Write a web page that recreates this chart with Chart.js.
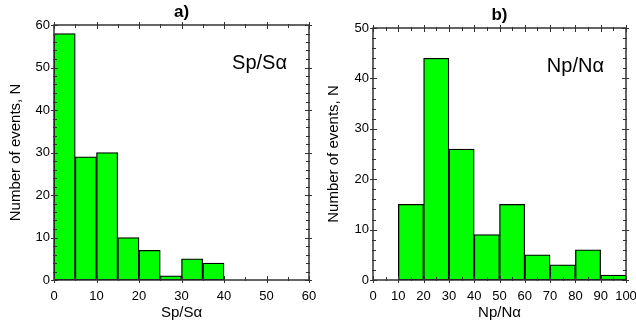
<!DOCTYPE html>
<html>
<head>
<meta charset="UTF-8">
<script src="https://cdn.jsdelivr.net/npm/chart.js"></script>
<style>
  html, body { margin: 0; padding: 0; background: #fff; overflow: hidden; width: 636px; height: 328px; }
  canvas { position: absolute; top: 0; }
  #chartA { left: 0; }
  #chartB { left: 318px; }
</style>
</head>
<body>
<canvas id="chartA" width="318" height="328"></canvas>
<canvas id="chartB" width="340" height="328"></canvas>
<script>
// histogram a) Sp/Sα, bin width 5
const spEdges = [0, 5, 10, 15, 20, 25, 30, 35];
const spCounts = [58, 29, 30, 10, 7, 1, 5, 4];
// histogram b) Np/Nα, bin width 10
const npEdges = [10, 20, 30, 40, 50, 60, 70, 80, 90];
const npCounts = [15, 44, 26, 9, 15, 5, 3, 6, 1];

const FONT = "'Liberation Sans', Arial, sans-serif";

function line(ctx, x1, y1, x2, y2) {
  ctx.beginPath(); ctx.moveTo(x1, y1); ctx.lineTo(x2, y2); ctx.stroke();
}

// box frame with ticks on all four sides, plus panel title and label
const framePlugin = {
  id: 'frame',
  afterDraw(chart, args, o) {
    const { ctx, chartArea: a, scales: { x, y } } = chart;
    ctx.save();
    ctx.strokeStyle = '#333';
    ctx.lineWidth = 1;
    const isMajor = (v, m) => Math.abs(v / m - Math.round(v / m)) < 1e-6;
    for (let v = x.min; v <= x.max + 1e-9; v += o.xMinor) {
      const px = Math.round(x.getPixelForValue(v)) + 0.5;
      const mj = isMajor(v, o.xMajor);
      const out = mj ? 3 : 1, inn = mj ? 4 : 3;
      line(ctx, px, a.bottom + out, px, a.bottom - inn);
      line(ctx, px, a.top - out, px, a.top + inn);
    }
    for (let v = y.min; v <= y.max + 1e-9; v += o.yMinor) {
      const py = Math.round(y.getPixelForValue(v)) + 0.5;
      const mj = isMajor(v, o.yMajor);
      const out = mj ? 3 : 1, inn = mj ? 4 : 3;
      line(ctx, a.left - out, py, a.left + inn, py);
      line(ctx, a.right + out, py, a.right - inn, py);
    }
    ctx.lineWidth = 1.5;
    ctx.strokeStyle = '#333';
    ctx.strokeRect(a.left, a.top, a.right - a.left, a.bottom - a.top);

    ctx.fillStyle = '#000';
    ctx.textAlign = 'center';
    ctx.textBaseline = 'middle';
    ctx.font = 'bold 17px ' + FONT;
    ctx.fillText(o.title, (a.left + a.right) / 2, a.top - 13);
    ctx.font = '20px ' + FONT;
    ctx.textAlign = 'right';
    ctx.textBaseline = 'alphabetic';
    ctx.fillText(o.label, a.right - 22, a.top + 44);
    ctx.restore();
  }
};

function histogram(id, edges, counts, binW, xMax, yMax, xTitle, title, pad) {
  return new Chart(document.getElementById(id), {
    type: 'bar',
    data: {
      datasets: [{
        data: edges.map((e, i) => ({ x: e + binW / 2, y: counts[i] })),
        backgroundColor: '#00ff00',
        borderColor: '#000',
        borderWidth: 1.3,
        borderSkipped: false,
        barPercentage: 1,
        categoryPercentage: 1
      }]
    },
    options: {
      responsive: false,
      animation: false,
      layout: { padding: { left: 0, top: pad.top, right: pad.right, bottom: 0 } },
      plugins: {
        legend: { display: false },
        tooltip: { enabled: false },
        frame: { title: title, label: xTitle, xMinor: 5, xMajor: 10, yMinor: 2, yMajor: 10 }
      },
      scales: {
        x: {
          type: 'linear', min: 0, max: xMax, offset: false,
          grid: { display: false, drawTicks: false, offset: false },
          border: { display: false },
          ticks: { stepSize: 10, color: '#000', font: { family: FONT, size: 13 }, padding: 9, maxRotation: 0 },
          title: { display: true, text: xTitle, color: '#000', font: { family: FONT, size: 15 }, padding: { top: 0, bottom: 6 } },
          afterFit(s) { s.height = 48; s.paddingLeft = 0; s.paddingRight = 0; }
        },
        y: {
          min: 0, max: yMax,
          grid: { display: false, drawTicks: false },
          border: { display: false },
          ticks: { stepSize: 10, color: '#000', font: { family: FONT, size: 13 }, padding: 4 },
          title: { display: true, text: 'Number of events, N', color: '#000', font: { family: FONT, size: 15 }, padding: { top: 7, bottom: 0 } },
          afterFit(s) { s.width = pad.yw; s.paddingTop = 0; s.paddingBottom = 0; }
        }
      }
    },
    plugins: [framePlugin]
  });
}

histogram('chartA', spEdges, spCounts, 5, 60, 60, 'Sp/S\u03b1', 'a)',
  { top: 25, right: 9, yw: 54 });
histogram('chartB', npEdges, npCounts, 10, 100, 50, 'Np/N\u03b1', 'b)',
  { top: 28, right: 32, yw: 55 });
</script>
</body>
</html>
